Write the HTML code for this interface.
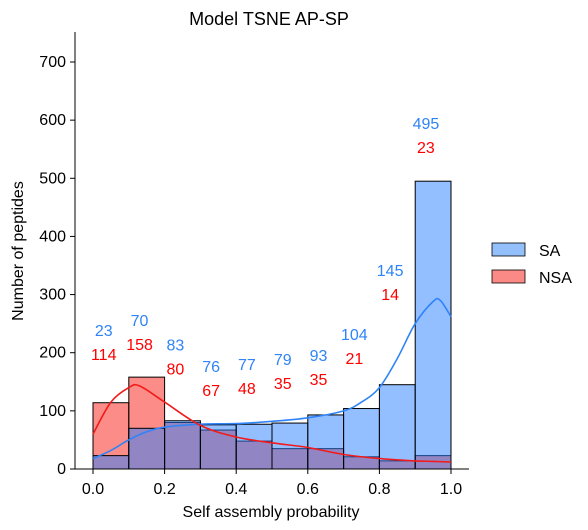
<!DOCTYPE html>
<html><head><meta charset="utf-8">
<style>
body{margin:0;background:#fff;}
svg{display:block;font-family:"Liberation Sans","DejaVu Sans",sans-serif;}
</style></head>
<body>
<svg id="chart" width="588" height="530">
<text x="269" y="25" font-size="18" text-anchor="middle">Model TSNE AP-SP</text>
<g id="bars"></g><g id="kde"></g><g id="labels"></g><g id="axes"></g>
<g>
<rect x="492" y="243" width="33" height="13" fill="#93bffb" stroke="#000" stroke-width="0.8"/>
<text x="539" y="256" font-size="16">SA</text>
<rect x="492" y="270" width="33" height="13" fill="#fb8a87" stroke="#000" stroke-width="0.8"/>
<text x="539" y="283" font-size="16">NSA</text>
</g>
<text x="271" y="517" font-size="16" text-anchor="middle">Self assembly probability</text>
<text transform="translate(23,251) rotate(-90)" font-size="16" text-anchor="middle">Number of peptides</text>
</svg>
<script>
const binStarts=[0,0.1,0.2,0.3,0.4,0.5,0.6,0.7,0.8,0.9];
const saCounts=[23,70,83,76,77,79,93,104,145,495];
const nsaCounts=[114,158,80,67,48,35,35,21,14,23];
const labelLevel=[239,256,214,177,181,189,196,232,342,595];
const saKdeX=[0,0.05,0.1,0.15,0.2,0.3,0.4,0.5,0.6,0.7,0.75,0.8,0.85,0.9,0.95,0.97,1.0];
const saKdeY=[18,32,50,64,72,77,78,82,88,100,115,140,190,250,288,290,262];
const nsaKdeX=[0,0.05,0.1,0.13,0.2,0.3,0.4,0.5,0.6,0.7,0.8,0.9,0.95,1.0];
const nsaKdeY=[60,115,140,143,115,75,55,45,37,25,18,14,13,12];
const yTicks=[0,100,200,300,400,500,600,700];
const xTicks=[0,0.2,0.4,0.6,0.8,1.0];
const xTickLabels=["0.0","0.2","0.4","0.6","0.8","1.0"];
const NS="http://www.w3.org/2000/svg";
const X=v=>93+v*358, Y=v=>469-v*(407/700);
function mk(tag,attrs,parent,text){const e=document.createElementNS(NS,tag);for(const k in attrs)e.setAttribute(k,attrs[k]);if(text!==undefined)e.textContent=text;document.getElementById(parent).appendChild(e);return e;}
binStarts.forEach((b,i)=>{
 let e=mk('rect',{x:X(b),y:Y(nsaCounts[i]),width:X(b+0.1)-X(b),height:Y(0)-Y(nsaCounts[i]),fill:'rgba(250,25,15,0.5)',stroke:'#000','stroke-width':1},'bars');
 
 
});
binStarts.forEach((b,i)=>{
 let e=mk('rect',{x:X(b),y:Y(saCounts[i]),width:X(b+0.1)-X(b),height:Y(0)-Y(saCounts[i]),fill:'rgba(40,125,255,0.5)',stroke:'#000','stroke-width':1},'bars');
 
 
});
function line(xs,ys,c,name){
 const p=xs.map((x,i)=>[X(x),Y(ys[i])]);
 let d='M'+p[0][0].toFixed(1)+','+p[0][1].toFixed(1);
 for(let i=0;i<p.length-1;i++){
  const p0=p[Math.max(0,i-1)],p1=p[i],p2=p[i+1],p3=p[Math.min(p.length-1,i+2)];
  const c1=[p1[0]+(p2[0]-p0[0])/6,p1[1]+(p2[1]-p0[1])/6];
  const c2=[p2[0]-(p3[0]-p1[0])/6,p2[1]-(p3[1]-p1[1])/6];
  d+='C'+c1.map(v=>v.toFixed(1)).join(',')+' '+c2.map(v=>v.toFixed(1)).join(',')+' '+p2.map(v=>v.toFixed(1)).join(',');
 }
 let e=mk('path',{d:d,fill:'none',stroke:c,'stroke-width':1.6,'stroke-linejoin':'round'},'kde');
 
 
}
line(saKdeX,saKdeY,'#2f84f8','kde-line-sa');
line(nsaKdeX,nsaKdeY,'#f21a1a','kde-line-nsa');
binStarts.forEach((b,i)=>{
 let cx=X(b+0.03);
 let e=mk('text',{x:cx,y:Y(labelLevel[i])+6,'font-size':16,fill:'#2f84f8','text-anchor':'middle'},'labels',String(saCounts[i]));
 
 
 let f=mk('text',{x:cx,y:Y(labelLevel[i])+30,'font-size':16,fill:'#f00','text-anchor':'middle'},'labels',String(nsaCounts[i]));
 
 
});
let s1=mk('line',{x1:75,y1:32,x2:75,y2:469,stroke:'#000','stroke-width':1},'axes');

let s2=mk('line',{x1:75,y1:469,x2:469,y2:469,stroke:'#000','stroke-width':1},'axes');

yTicks.forEach(v=>{
 mk('line',{x1:70,y1:Y(v),x2:75,y2:Y(v),stroke:'#000'},'axes');
 let t=mk('text',{x:66,y:Y(v)+5,'font-size':16,'text-anchor':'end'},'axes',String(v));
 
 
});
xTicks.forEach((v,i)=>{
 mk('line',{x1:X(v),y1:469,x2:X(v),y2:474,stroke:'#000'},'axes');
 let t=mk('text',{x:X(v),y:494,'font-size':16,'text-anchor':'middle'},'axes',xTickLabels[i]);
 
 
});
</script>
</body></html>
